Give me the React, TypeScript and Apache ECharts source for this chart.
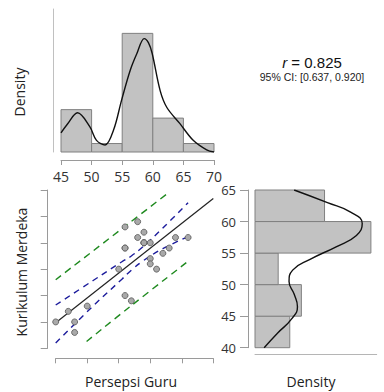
import React, { useEffect, useRef } from "react";
import * as echarts from "echarts";

const persepsiGuru = [45, 47, 48, 48, 50, 55, 56, 56, 56, 56, 57, 58, 58, 59, 59, 59, 59, 60, 60, 61, 62, 63, 64, 66, 60];
const kurikulumMerdeka = [45, 47, 45, 43, 48, 55, 63, 59, 59, 50, 49, 64, 61, 60, 62, 60, 60, 57, 56, 55, 58, 59, 61, 61, 60];

// Marginal histograms (density)
const xBinEdges = [45, 50, 55, 60, 65, 70];
const xBinDensity = [0.04, 0.008, 0.112, 0.032, 0.008];
const yBinEdges = [40, 45, 50, 55, 60, 65];
const yBinDensity = [0.024, 0.032, 0.016, 0.08, 0.048];

// Kernel density curves
const xKdeX = [45, 46, 47.7, 49.7, 50.8, 52.2, 53.6, 54.9, 56.3, 57.4, 58.6, 59.3, 59.9, 61.2, 62.3, 64.4, 66.6, 68.8, 70];
const xKdeD = [0.018, 0.026, 0.037, 0.024, 0.011, 0.0066, 0.021, 0.049, 0.077, 0.093, 0.107, 0.103, 0.093, 0.058, 0.042, 0.027, 0.011, 0.002, 0.0];
const yKdeY = [65, 63, 61.5, 59.7, 57.8, 56.0, 54.0, 52.3, 50.5, 48.5, 46.5, 44.5, 42.3, 40];
const yKdeD = [0.027, 0.05, 0.066, 0.074, 0.07, 0.056, 0.038, 0.026, 0.0235, 0.027, 0.0293, 0.025, 0.0155, 0.0063];

// Regression line and bands
const fitX = [45, 70];
const fitY = [44.85, 68.4];
const ciX = [45, 51, 55.5, 57, 58.9, 62, 66];
const ciUpper = [48.2, 52.9, 56.4, 57.5, 59.3, 62.8, 67.6];
const ciLower = [41.0, 48.1, 53.1, 54.8, 56.6, 58.9, 61.15];
const piUpperX = [45, 55.6, 62.9];
const piUpper = [53.0, 62.75, 69.5];
const piLowerX = [49.9, 56.8, 65.9];
const piLower = [41.3, 47.9, 56.4];

const rText = "0.825";
const ciText = "95% CI: [0.637, 0.920]";
const xName = "Persepsi Guru";
const yName = "Kurikulum Merdeka";
const densityName = "Density";

const FONT = "'Open Sans', 'DejaVu Sans', sans-serif";
const HFONT = "'Liberation Sans', Arial, sans-serif";
const BAR_FILL = "#c2c2c2";
const BAR_STROKE = "#808080";
const AXIS_C = "#9a9a9a";

const zip = (a: number[], b: number[]) => a.map((v, i) => [v, b[i]]);

export default function App() {
  const ref = useRef<HTMLDivElement>(null);
  useEffect(() => {
    if (!ref.current) return;
    const chart = echarts.init(ref.current, null, { renderer: "svg" });

    const topBins = xBinDensity.map((d, i) => [xBinEdges[i], xBinEdges[i + 1], d]);
    const rightBins = yBinDensity.map((d, i) => [yBinEdges[i], yBinEdges[i + 1], d]);

    const dashLine = (data: number[][], color: string, dash: number[], width = 1.4) => ({
      type: "line",
      xAxisIndex: 1,
      yAxisIndex: 1,
      data,
      smooth: 0.4,
      showSymbol: false,
      symbol: "none",
      silent: true,
      lineStyle: { color, width, type: dash },
      z: 3,
    });

    const option: any = {
      animation: false,
      grid: [
        { left: 61, top: 9, width: 153, height: 143, outerBoundsMode: "none", containLabel: false },
        { left: 55.7, top: 190, width: 157.6, height: 158.3, outerBoundsMode: "none", containLabel: false },
        { left: 255, top: 190, width: 121.7, height: 157.7, outerBoundsMode: "none", containLabel: false },
      ],
      xAxis: [
        {
          gridIndex: 0, type: "value", min: 45, max: 70, interval: 5, offset: 8,
          axisLine: { show: true, onZero: false, lineStyle: { color: AXIS_C, width: 1 } },
          axisTick: { show: true, length: 5, lineStyle: { color: AXIS_C } },
          axisLabel: { show: true, margin: 9, fontSize: 14, color: "#333", fontFamily: FONT },
          splitLine: { show: false },
        },
        {
          gridIndex: 1, type: "value", min: 45, max: 70, interval: 5, offset: 10,
          axisLine: { show: true, onZero: false, lineStyle: { color: AXIS_C, width: 1 } },
          axisTick: { show: true, length: 5, lineStyle: { color: AXIS_C } },
          axisLabel: { show: false },
          splitLine: { show: false },
        },
        {
          gridIndex: 2, type: "value", min: 0, max: 0.084, offset: 7,
          axisLine: { show: true, onZero: false, lineStyle: { color: "#b5b5b5", width: 1 } },
          axisTick: { show: false },
          axisLabel: { show: false },
          splitLine: { show: false },
        },
      ],
      yAxis: [
        {
          gridIndex: 0, type: "value", min: 0, max: 0.135, offset: 8,
          axisLine: { show: true, onZero: false, lineStyle: { color: "#c0c0c0", width: 1 } },
          axisTick: { show: false },
          axisLabel: { show: false },
          splitLine: { show: false },
        },
        {
          gridIndex: 1, type: "value", min: 40, max: 70, interval: 5, offset: 8,
          axisLine: { show: true, onZero: false, lineStyle: { color: AXIS_C, width: 1 } },
          axisTick: { show: true, length: 7, lineStyle: { color: AXIS_C } },
          axisLabel: { show: false },
          splitLine: { show: false },
        },
        {
          gridIndex: 2, type: "value", min: 40, max: 65, interval: 5, offset: 7,
          axisLine: { show: true, onZero: false, lineStyle: { color: AXIS_C, width: 1 } },
          axisTick: { show: true, length: 8, lineStyle: { color: AXIS_C } },
          axisLabel: { show: true, margin: 12, fontSize: 13, color: "#333", fontFamily: FONT },
          splitLine: { show: false },
        },
      ],
      series: [
        {
          type: "custom",
          xAxisIndex: 0,
          yAxisIndex: 0,
          data: topBins,
          encode: { x: [0, 1], y: 2 },
          renderItem: (_p: any, api: any) => {
            const a = api.coord([api.value(0), api.value(2)]);
            const b = api.coord([api.value(1), 0]);
            return {
              type: "rect",
              shape: { x: a[0], y: a[1], width: b[0] - a[0], height: b[1] - a[1] },
              style: { fill: BAR_FILL, stroke: BAR_STROKE, lineWidth: 1 },
            };
          },
          silent: true,
          z: 1,
        },
        {
          type: "line",
          xAxisIndex: 0,
          yAxisIndex: 0,
          data: zip(xKdeX, xKdeD),
          smooth: 0.35,
          showSymbol: false,
          symbol: "none",
          lineStyle: { color: "#111", width: 1.4 },
          silent: true,
          z: 3,
        },
        {
          type: "custom",
          xAxisIndex: 2,
          yAxisIndex: 2,
          data: rightBins,
          encode: { x: 2, y: [0, 1] },
          renderItem: (_p: any, api: any) => {
            const a = api.coord([0, api.value(1)]);
            const b = api.coord([api.value(2), api.value(0)]);
            return {
              type: "rect",
              shape: { x: a[0], y: a[1], width: b[0] - a[0], height: b[1] - a[1] },
              style: { fill: BAR_FILL, stroke: BAR_STROKE, lineWidth: 1 },
            };
          },
          silent: true,
          z: 1,
        },
        {
          type: "line",
          xAxisIndex: 2,
          yAxisIndex: 2,
          data: zip(yKdeD, yKdeY),
          smooth: 0.5,
          showSymbol: false,
          symbol: "none",
          lineStyle: { color: "#111", width: 1.4 },
          silent: true,
          z: 3,
        },
        dashLine(zip(piUpperX, piUpper), "#1f8a1f", [7, 5]),
        dashLine(zip(piLowerX, piLower), "#1f8a1f", [7, 5]),
        dashLine(zip(ciX, ciUpper), "#1c1c9c", [6, 5]),
        dashLine(zip(ciX, ciLower), "#1c1c9c", [6, 5]),
        {
          type: "line",
          xAxisIndex: 1,
          yAxisIndex: 1,
          data: zip(fitX, fitY),
          showSymbol: false,
          symbol: "none",
          lineStyle: { color: "#222", width: 1.2 },
          silent: true,
          z: 3,
        },
        {
          type: "scatter",
          xAxisIndex: 1,
          yAxisIndex: 1,
          data: zip(persepsiGuru, kurikulumMerdeka),
          symbolSize: 6,
          itemStyle: { color: "#a9a9a9", borderColor: "#555", borderWidth: 0.8, opacity: 1 },
          silent: true,
          z: 5,
        },
      ],
      graphic: [
        {
          type: "text", x: 19, y: 92, rotation: Math.PI / 2,
          style: { text: densityName, fontSize: 14, fontFamily: FONT, fill: "#222", align: "center", verticalAlign: "middle" },
        },
        {
          type: "text", x: 21, y: 272, rotation: Math.PI / 2,
          style: { text: yName, fontSize: 14, fontFamily: FONT, fill: "#222", align: "center", verticalAlign: "middle" },
        },
        {
          type: "text", x: 131, y: 381,
          style: { text: xName, fontSize: 14, fontFamily: FONT, fill: "#222", align: "center", verticalAlign: "middle" },
        },
        {
          type: "text", x: 311, y: 381,
          style: { text: densityName, fontSize: 14, fontFamily: FONT, fill: "#222", align: "center", verticalAlign: "middle" },
        },
        {
          type: "text", x: 312, y: 62,
          style: {
            text: "{i|r} = " + rText,
            fontSize: 15, fontFamily: HFONT, fill: "#111", align: "center", verticalAlign: "middle",
            rich: { i: { fontStyle: "italic", fontSize: 15, fontFamily: HFONT, fill: "#111" } },
          },
        },
        {
          type: "text", x: 312, y: 77,
          style: { text: ciText, fontSize: 10.5, fontFamily: HFONT, fill: "#222", align: "center", verticalAlign: "middle" },
        },
      ],
    };

    chart.setOption(option);
    return () => chart.dispose();
  }, []);

  return (
    <div
      ref={ref}
      style={{ position: "absolute", left: 0, top: 0, width: 384, height: 392, background: "#fff" }}
    />
  );
}
